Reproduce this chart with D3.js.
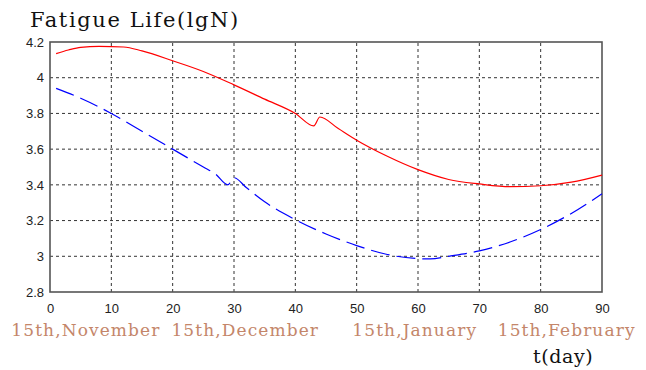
<!DOCTYPE html>
<html>
<head>
<meta charset="utf-8">
<script src="https://cdn.jsdelivr.net/npm/d3@7"></script>
<style>
  html, body { margin: 0; padding: 0; background: #fff; }
  svg { display: block; }
</style>
</head>
<body>
<svg id="chart" width="646" height="370"></svg>
<script>
// Fatigue life (lgN) over the 90-day winter period
const redDays   = [1, 3, 5, 8, 12, 15, 20, 25, 30, 35, 40, 43, 44, 47, 50, 55, 60, 65, 70, 75, 80, 85, 90];
const redLife   = [4.135, 4.155, 4.17, 4.175, 4.172, 4.15, 4.095, 4.035, 3.96, 3.88, 3.80, 3.73, 3.78, 3.715, 3.65, 3.56, 3.485, 3.43, 3.405, 3.39, 3.395, 3.415, 3.455];

const blueDays  = [1, 5, 10, 15, 20, 25, 27, 29, 30, 32, 35, 40, 45, 50, 55, 60, 62, 65, 70, 75, 80, 85, 90];
const blueLife  = [3.94, 3.885, 3.80, 3.70, 3.60, 3.50, 3.46, 3.40, 3.44, 3.385, 3.305, 3.205, 3.125, 3.06, 3.01, 2.987, 2.985, 3.00, 3.03, 3.08, 3.15, 3.24, 3.35];

const xTicks = [0, 10, 20, 30, 40, 50, 60, 70, 80, 90];
const yTicks = [2.8, 3, 3.2, 3.4, 3.6, 3.8, 4, 4.2];

const dateLabels = ["15th,November", "15th,December", "15th,January", "15th,February"];
const dateLabelDays = [-6.3, 19.8, 49.3, 73.0];

const svg = d3.select("#chart");
const margin = { left: 50, right: 44, top: 42, bottom: 78 };
const W = 646, H = 370;

const x = d3.scaleLinear().domain([0, 90]).range([margin.left, W - margin.right]);
const y = d3.scaleLinear().domain([2.8, 4.2]).range([H - margin.bottom, margin.top]);

// dashed grid
const grid = svg.append("g");
grid.selectAll("line.vx").data(xTicks.slice(1, -1)).join("line")
  .attr("x1", d => x(d)).attr("x2", d => x(d))
  .attr("y1", y(2.8)).attr("y2", y(4.2))
  .attr("stroke", "#333").attr("stroke-width", 1).attr("stroke-dasharray", "3,3");
grid.selectAll("line.hy").data(yTicks.slice(1, -1)).join("line")
  .attr("x1", x(0)).attr("x2", x(90))
  .attr("y1", d => y(d)).attr("y2", d => y(d))
  .attr("stroke", "#333").attr("stroke-width", 1).attr("stroke-dasharray", "3,3");

// axes
const xAxis = d3.axisBottom(x).tickValues(xTicks).tickSize(0).tickPadding(12).tickFormat(d3.format("d"));
const yAxis = d3.axisLeft(y).tickValues(yTicks).tickSize(0).tickPadding(6).tickFormat(d => String(+d.toFixed(1)));

const gx = svg.append("g").attr("transform", `translate(0,${y(2.8)})`).call(xAxis);
const gy = svg.append("g").attr("transform", `translate(${x(0)},0)`).call(yAxis);
[gx, gy].forEach(g => {
  g.select(".domain").remove();
  g.selectAll("text").attr("font-family", "'Liberation Sans', Arial, sans-serif")
    .attr("font-size", 13).attr("fill", "#222");
});

// plot frame
svg.append("rect")
  .attr("x", x(0)).attr("y", y(4.2))
  .attr("width", x(90) - x(0)).attr("height", y(2.8) - y(4.2))
  .attr("fill", "none").attr("stroke", "#555").attr("stroke-width", 1.6);

// series
const redLine = d3.line().x((d, i) => x(redDays[i])).y(d => y(d)).curve(d3.curveMonotoneX);
const blueLine = d3.line().x((d, i) => x(blueDays[i])).y(d => y(d)).curve(d3.curveMonotoneX);

svg.append("path").datum(redLife).attr("d", redLine)
  .attr("fill", "none").attr("stroke", "#ff0000").attr("stroke-width", 1.2);
svg.append("path").datum(blueLife).attr("d", blueLine)
  .attr("fill", "none").attr("stroke", "#0000ff").attr("stroke-width", 1.2)
  .attr("stroke-dasharray", "19,7");

// titles and date labels
svg.append("text").attr("x", 30).attr("y", 27)
  .attr("font-family", "'DejaVu Serif', 'Liberation Serif', serif")
  .attr("font-size", 21).attr("letter-spacing", 1.6).attr("fill", "#111")
  .text("Fatigue Life(lgN)");

svg.selectAll("text.date").data(dateLabels).join("text")
  .attr("class", "date")
  .attr("x", (d, i) => x(dateLabelDays[i]))
  .attr("y", 336)
  .attr("font-family", "'DejaVu Serif', 'Liberation Serif', serif")
  .attr("font-size", 17).attr("letter-spacing", 1.1).attr("fill", "#c4866a")
  .text(d => d);

svg.append("text").attr("x", 533).attr("y", 363)
  .attr("font-family", "'DejaVu Serif', 'Liberation Serif', serif")
  .attr("font-size", 19).attr("letter-spacing", 0.6).attr("fill", "#111")
  .text("t(day)");
</script>
</body>
</html>
